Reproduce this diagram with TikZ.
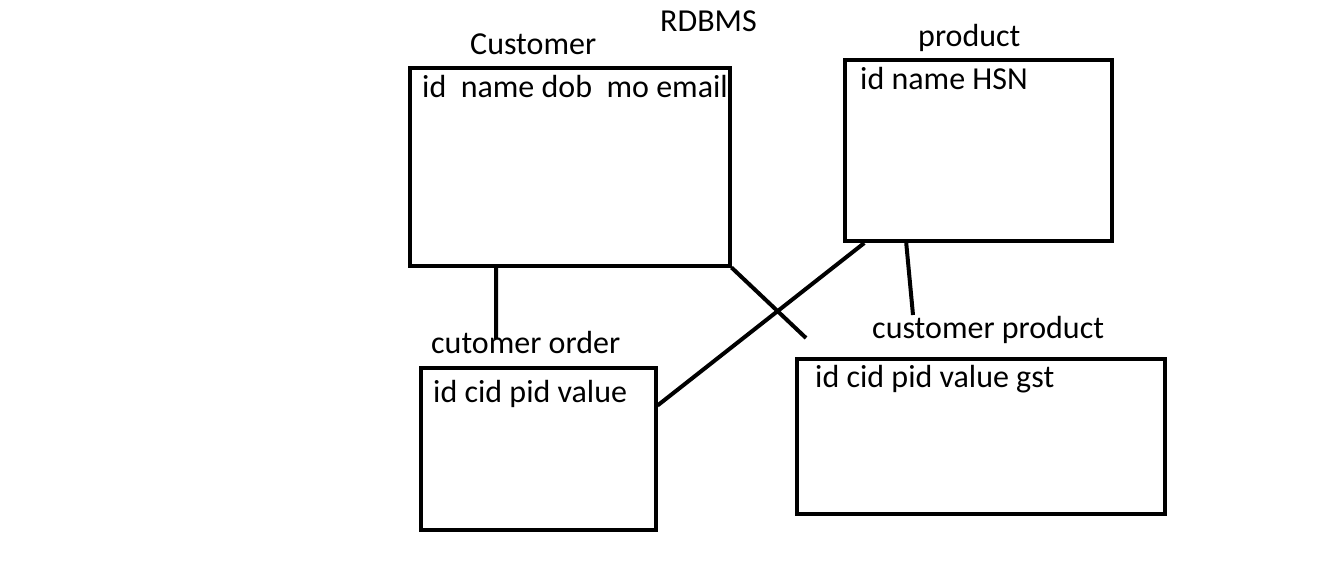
\documentclass[tikz,border=0pt]{standalone}
\usepackage{fontspec}
\setmainfont{Carlito}
\tikzset{
  tablebox/.style={draw, line width=4pt, inner sep=0pt},
  handtext/.style={anchor=base west, inner sep=0pt, font=\fontsize{32}{38}\selectfont},
  relation/.style={line width=4pt}
}
\begin{document}
\begin{tikzpicture}[x=1pt,y=-1pt]
                \useasboundingbox (0,0) rectangle (1329,568);
                % tables
                \node[tablebox, minimum width=320pt, minimum height=198pt] (customer) at (569.5,166.5) {};
                \node[tablebox, minimum width=267pt, minimum height=181pt] (product) at (978.5,150.5) {};
                \node[tablebox, minimum width=235pt, minimum height=162pt] (corder) at (538,449) {};
                \node[tablebox, minimum width=367.5pt, minimum height=155pt] (cproduct) at (980.75,436.5) {};
                % titles and fields
                \node[handtext] (title) at (660,31) {RDBMS};
                \node[handtext] (customerlabel) at (470,54) {Customer};
                \node[handtext] (customerfields) at (422,97) {id~~name dob~~mo email};
                \node[handtext] (productlabel) at (918,46) {product};
                \node[handtext] (productfields) at (860,89) {id name HSN};
                \node[handtext] (corderlabel) at (431,353) {cutomer order};
                \node[handtext] (corderfields) at (433,402) {id cid pid value};
                \node[handtext] (cproductlabel) at (872,338) {customer product};
                \node[handtext] (cproductfields) at (815,387) {id cid pid value gst};
                % free ends
                \coordinate (orderend) at (496,339);
                \coordinate (crossend) at (806,338);
                \coordinate (prodend) at (913,315);
                % relations
                \draw[relation] (customer.234) -- (orderend);
                \draw[relation] (customer.south east) -- (crossend);
                \draw[relation] (product.219) -- (corder.20);
                \draw[relation] (product.232) -- (prodend);
            \end{tikzpicture}
\end{document}
